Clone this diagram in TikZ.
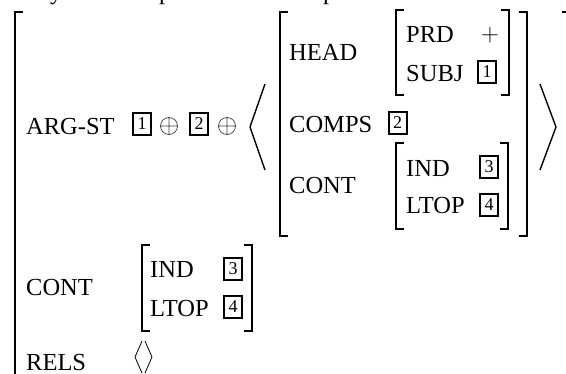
\documentclass[tikz,border=0pt]{standalone}
\usepackage{fontspec}
\setmainfont{Liberation Serif}
\begin{document}
\begin{tikzpicture}[x=1pt,y=-1pt,
  lbl/.style={anchor=base west,inner sep=0pt,font=\fontsize{24.5}{29}\selectfont},
  tag/.style={draw,line width=2pt,minimum width=18pt,minimum height=22pt,inner sep=0pt,font=\fontsize{18}{21}\selectfont},
  brk/.style={line width=1.3pt},
  ang/.style={line width=1.4pt,line join=miter},
  opl/.style={line width=0.7pt,black!75}]
\useasboundingbox (0,0) rectangle (566,373);
\clip (0,0) rectangle (566,373);
% cut-off text fragments at the top
\node[lbl] (fy) at (50,-1) {y};
\node[lbl] (fp1) at (159,-1) {p};
\node[lbl] (fp2) at (323,-1) {p};
% outer matrix
\draw[brk] (23,12) -- (15,12) -- (15,400);
\draw[brk] (562,12) -- (571,12) -- (571,400);
\node[lbl] (argst) at (26,134) {ARG-ST};
\node[tag] (t1a) at (142,124) {1};
\draw[opl] (169,126) circle (8.5) (160.5,126) -- (177.5,126) (169,117.5) -- (169,134.5);
\node[tag] (t2a) at (199,124) {2};
\draw[opl] (227,126) circle (8.5) (218.5,126) -- (235.5,126) (227,117.5) -- (227,134.5);
\draw[ang] (265,84) -- (250,127) -- (265,170);
\draw[ang] (540,84) -- (556,127) -- (540,170);
% list element matrix
\draw[brk] (288,12) -- (280,12) -- (280,236) -- (288,236);
\draw[brk] (519,12) -- (527,12) -- (527,236) -- (519,236);
\node[lbl] (head) at (289,60) {HEAD};
\draw[brk] (404,10) -- (396,10) -- (396,95) -- (404,95);
\draw[brk] (501,10) -- (509,10) -- (509,95) -- (501,95);
\node[lbl] (prd) at (406,42) {PRD};
\node[inner sep=0pt,font=\fontsize{24.5}{29}\selectfont] (plus) at (490,35) {$+$};
\node[tag] (t1b) at (487,72) {1};
\node[lbl] (subj) at (406,81) {SUBJ};
\node[lbl] (comps) at (289,132) {COMPS};
\node[tag] (t2b) at (397.5,122.5) {2};
\node[lbl] (cont) at (289,193) {CONT};
\draw[brk] (404,143) -- (396,143) -- (396,229) -- (404,229);
\draw[brk] (500,143) -- (508,143) -- (508,229) -- (500,229);
\node[lbl] (ind) at (406,176) {IND};
\node[tag] (t3a) at (489,166.5) {3};
\node[lbl] (ltop) at (406,213) {LTOP};
\node[tag] (t4a) at (489,204.5) {4};
% CONT of outer matrix
\node[lbl] (cont2) at (26,295) {CONT};
\draw[brk] (150,245) -- (142,245) -- (142,331) -- (150,331);
\draw[brk] (244,245) -- (252,245) -- (252,331) -- (244,331);
\node[lbl] (ind2) at (150,277) {IND};
\node[tag] (t3b) at (233,268.5) {3};
\node[lbl] (ltop2) at (150,316) {LTOP};
\node[tag] (t4b) at (233,307) {4};
\node[lbl] (rels) at (26,370) {RELS};
\draw[line width=0.8pt] (142,341) -- (135,357) -- (142,373);
\draw[line width=0.8pt] (145,341) -- (152,357) -- (145,373);
\end{tikzpicture}
\end{document}
